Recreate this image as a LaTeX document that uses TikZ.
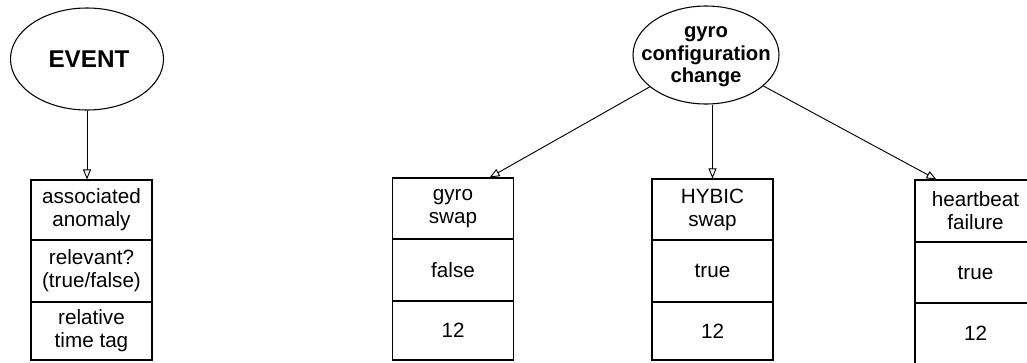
\documentclass[tikz,border=0pt]{standalone}
\usepackage{fontspec}
\setmainfont{Liberation Sans}
\usetikzlibrary{shapes.geometric,arrows.meta,calc}
\tikzset{
  cell/.style={draw, line width=0.8pt, inner sep=0pt, align=center,
    minimum width=90.75pt, font=\fontsize{15.5pt}{17.25pt}\selectfont},
  oval/.style={draw, ellipse, line width=0.8pt, inner sep=0pt},
  ovaltext/.style={align=center, inner sep=0pt, font=\bfseries\fontsize{15.2pt}{16.9pt}\selectfont},
  arr/.style={line width=0.7pt, -{Triangle[open, length=7.5pt, width=6pt]}}
}
\begin{document}
\begin{tikzpicture}[x=0.75pt, y=-0.75pt]
\useasboundingbox (0,0) rectangle (1027,362);
% EVENT
\node[oval, minimum width=114.75pt, minimum height=76.5pt] (event) at (87,59) {};
\node[ovaltext, font=\bfseries\fontsize{18.2pt}{20pt}\selectfont] (eventt) at (89,59) {EVENT};
\node[cell, minimum height=45pt] (e1) at (91.5,210) {associated\\anomaly};
\node[cell, minimum height=46.5pt] (e2) at (91.5,271) {relevant?\\(true/false)};
\node[cell, minimum height=43.5pt] (e3) at (91.5,331) {relative\\time tag};
\draw[arr] (event.south) -- (event.south |- e1.north);
% gyro configuration change
\node[oval, minimum width=109.5pt, minimum height=73.5pt] (gyro) at (706,55) {};
\node[ovaltext] (gyrot) at (706,57) {gyro\\configuration\\change};
% gyro swap
\node[cell, minimum height=45.75pt] (g1) at (453,208.5) {gyro\\swap};
\node[cell, minimum height=46.5pt] (g2) at (453,270) {false};
\node[cell, minimum height=44.25pt] (g3) at (453,330.5) {12};
% HYBIC swap
\node[cell, minimum height=45.75pt] (h1) at (712.5,209.5) {HYBIC\\swap};
\node[cell, minimum height=46.5pt] (h2) at (712.5,271) {true};
\node[cell, minimum height=43.5pt] (h3) at (712.5,331) {12};
% heartbeat failure
\node[cell, minimum height=46.5pt] (b1) at (975.5,211) {heartbeat\\failure};
\node[cell, minimum height=45.75pt] (b2) at (975.5,272.5) {true};
\node[cell, minimum height=45.75pt] (b3) at (975.5,333.5) {12};
% connectors
\draw[arr] (gyro) -- ($(g1.north west)!0.8!(g1.north east)$);
\draw[arr] (gyro.south -| h1.north) -- (h1.north);
\draw[arr] (gyro) -- ($(b1.north west)!0.18!(b1.north east)$);
\end{tikzpicture}
\end{document}
